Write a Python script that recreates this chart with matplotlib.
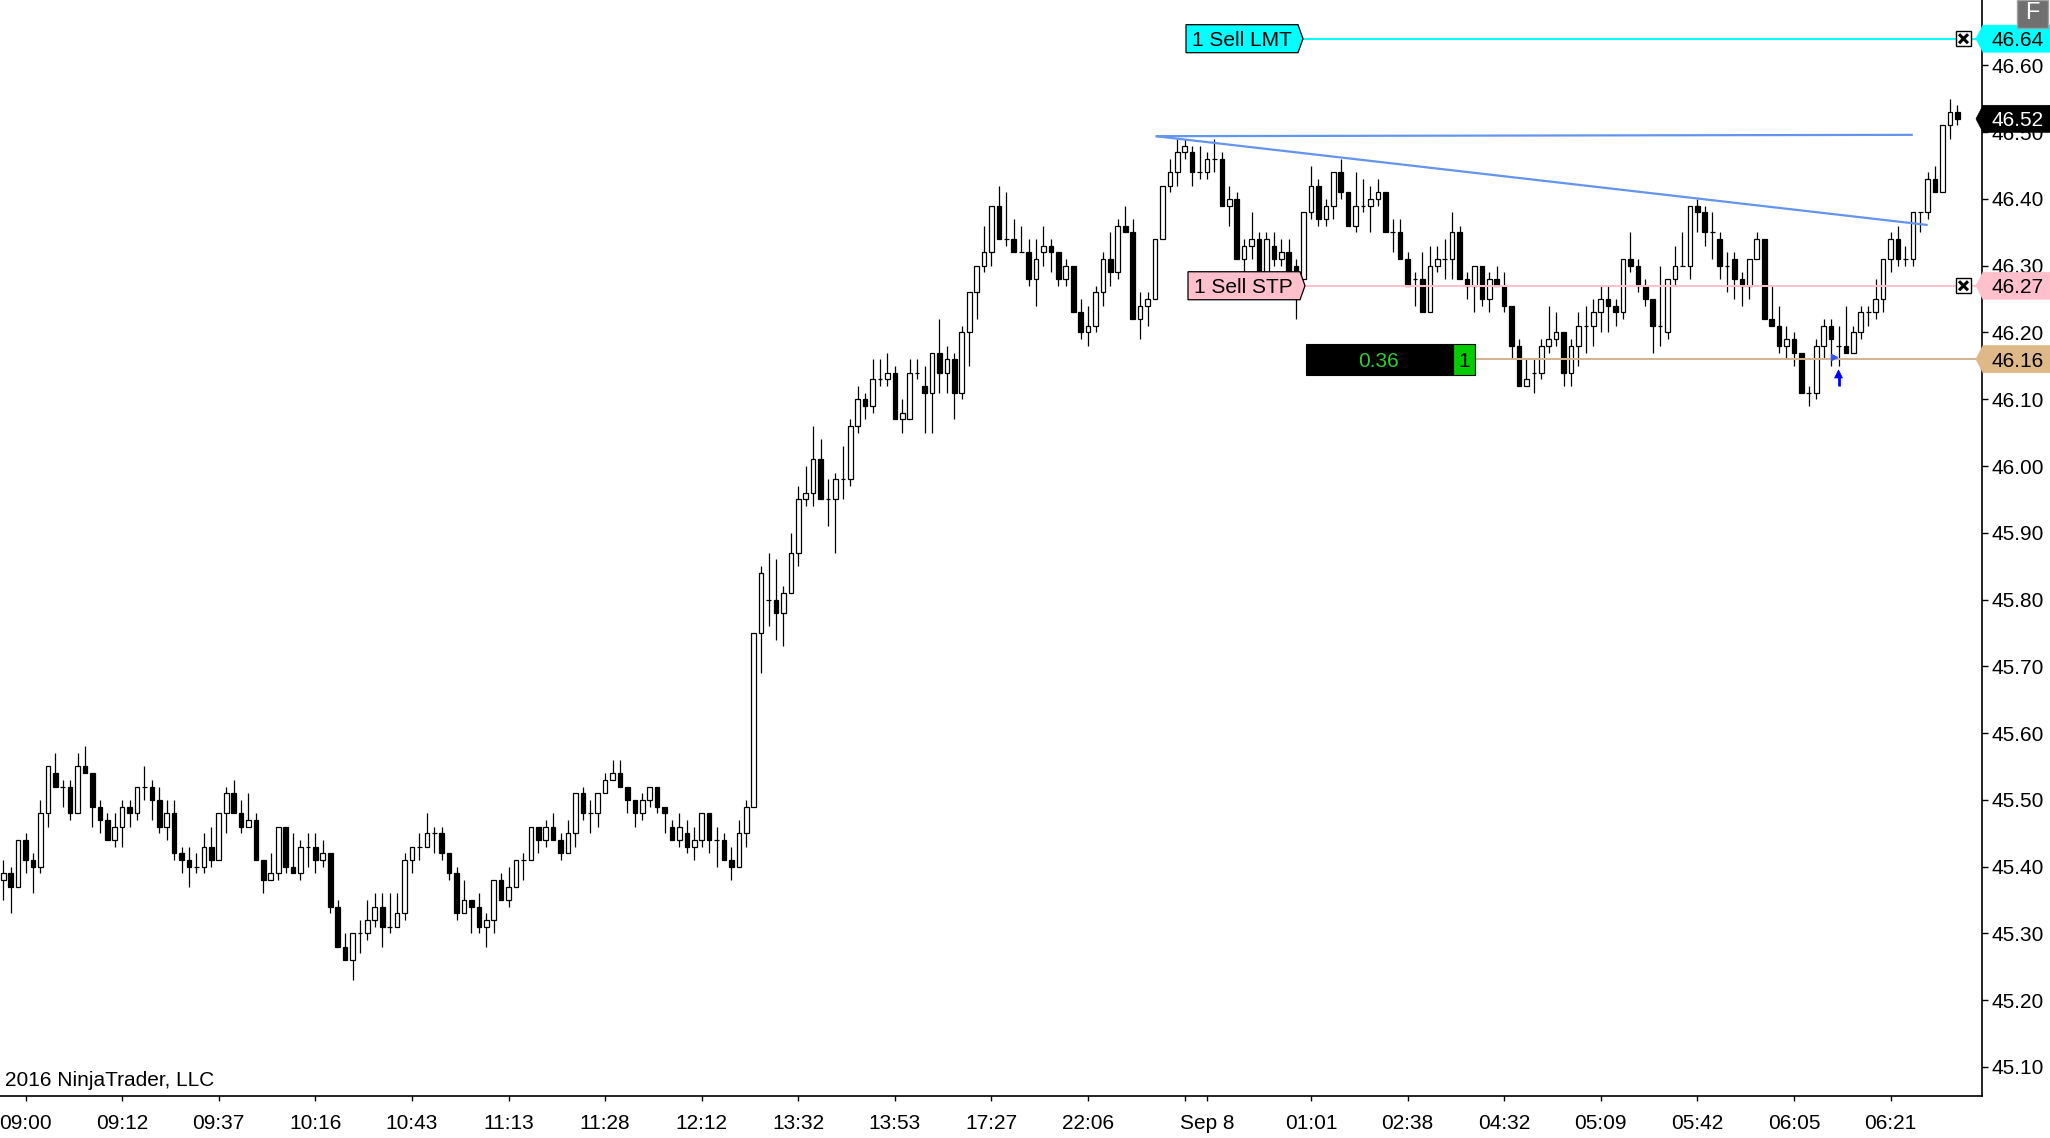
import matplotlib
matplotlib.use("Agg")
import matplotlib.pyplot as plt
from matplotlib.patches import Polygon, Rectangle
import numpy as np

plt.rcParams['font.family'] = ['Liberation Sans', 'DejaVu Sans']

# ---------------- data (OHLC, one row per bar) ----------------
opens = [45.38,45.39,45.37,45.44,45.41,45.40,45.48,45.54,45.52,45.52,45.48,45.55,45.54,45.49,45.47,45.44,45.46,45.49,45.48,45.52,
         45.52,45.50,45.46,45.48,45.42,45.41,45.40,45.40,45.43,45.41,45.48,45.51,45.48,45.46,45.47,45.41,45.38,45.39,45.46,45.40,
         45.39,45.43,45.43,45.41,45.42,45.34,45.28,45.26,45.30,45.30,45.32,45.34,45.31,45.31,45.33,45.41,45.43,45.43,45.45,45.45,
         45.42,45.39,45.33,45.35,45.34,45.31,45.32,45.38,45.35,45.37,45.41,45.41,45.46,45.44,45.46,45.44,45.42,45.45,45.51,45.48,
         45.48,45.51,45.53,45.54,45.52,45.50,45.48,45.50,45.52,45.49,45.46,45.44,45.45,45.43,45.44,45.48,45.44,45.44,45.41,45.40,
         45.45,45.49,45.75,45.80,45.80,45.78,45.81,45.87,45.95,45.96,46.01,45.95,45.95,45.98,45.98,46.06,46.10,46.09,46.13,46.13,
         46.14,46.07,46.07,46.14,46.12,46.11,46.17,46.14,46.16,46.11,46.20,46.26,46.30,46.32,46.39,46.34,46.34,46.32,46.32,46.28,
         46.32,46.33,46.32,46.28,46.30,46.23,46.20,46.21,46.26,46.31,46.29,46.36,46.35,46.22,46.24,46.25,46.34,46.42,46.44,46.47,
         46.47,46.44,46.44,46.46,46.46,46.39,46.40,46.31,46.33,46.34,46.29,46.33,46.31,46.32,46.30,46.28,46.38,46.42,46.37,46.39,
         46.44,46.41,46.36,46.39,46.39,46.40,46.41,46.35,46.35,46.31,46.28,46.28,46.23,46.30,46.31,46.31,46.35,46.28,46.27,46.30,
         46.25,46.28,46.27,46.24,46.18,46.12,46.14,46.14,46.18,46.19,46.20,46.14,46.18,46.21,46.21,46.23,46.25,46.24,46.23,46.31,
         46.30,46.27,46.25,46.21,46.20,46.28,46.30,46.30,46.39,46.38,46.35,46.34,46.30,46.31,46.28,46.27,46.31,46.34,46.22,46.21,
         46.18,46.19,46.17,46.11,46.11,46.18,46.21,46.18,46.18,46.17,46.20,46.23,46.23,46.25,46.31,46.34,46.31,46.31,46.38,46.38,
         46.43,46.41,46.51,46.53]
highs = [45.41,45.40,45.44,45.45,45.42,45.50,45.55,45.57,45.53,45.53,45.57,45.58,45.54,45.50,45.48,45.48,45.50,45.50,45.52,45.55,
         45.53,45.52,45.50,45.50,45.43,45.43,45.42,45.45,45.46,45.48,45.52,45.53,45.50,45.51,45.48,45.41,45.42,45.46,45.46,45.45,
         45.44,45.45,45.45,45.44,45.42,45.35,45.30,45.30,45.32,45.35,45.36,45.36,45.36,45.36,45.42,45.43,45.45,45.48,45.46,45.46,
         45.42,45.40,45.38,45.35,45.36,45.33,45.38,45.39,45.40,45.41,45.42,45.46,45.46,45.47,45.48,45.45,45.47,45.51,45.52,45.50,
         45.51,45.54,45.56,45.56,45.52,45.50,45.51,45.52,45.52,45.49,45.47,45.48,45.47,45.46,45.48,45.48,45.46,45.45,45.43,45.47,
         45.50,45.75,45.85,45.87,45.86,45.82,45.90,45.97,46.00,46.06,46.04,45.98,45.99,46.03,46.07,46.12,46.11,46.16,46.16,46.17,
         46.15,46.10,46.16,46.16,46.15,46.17,46.22,46.18,46.17,46.21,46.26,46.30,46.36,46.39,46.42,46.41,46.37,46.36,46.34,46.34,
         46.36,46.34,46.32,46.31,46.30,46.25,46.24,46.27,46.32,46.35,46.37,46.39,46.37,46.26,46.26,46.34,46.42,46.46,46.49,46.49,
         46.48,46.48,46.47,46.49,46.47,46.42,46.41,46.34,46.38,46.35,46.35,46.35,46.34,46.34,46.31,46.38,46.45,46.43,46.40,46.44,
         46.46,46.41,46.44,46.43,46.42,46.43,46.41,46.37,46.37,46.32,46.29,46.32,46.33,46.33,46.34,46.38,46.36,46.29,46.30,46.30,
         46.29,46.30,46.29,46.24,46.19,46.16,46.16,46.19,46.24,46.23,46.20,46.19,46.23,46.24,46.25,46.27,46.27,46.25,46.31,46.35,
         46.31,46.28,46.25,46.30,46.28,46.33,46.35,46.39,46.40,46.39,46.38,46.35,46.32,46.32,46.29,46.31,46.35,46.34,46.27,46.24,
         46.21,46.20,46.17,46.12,46.19,46.22,46.22,46.21,46.24,46.21,46.24,46.24,46.28,46.31,46.35,46.36,46.33,46.38,46.38,46.44,
         46.45,46.51,46.55,46.54]
lows =  [45.35,45.33,45.37,45.39,45.36,45.39,45.46,45.52,45.49,45.47,45.48,45.54,45.46,45.45,45.44,45.43,45.43,45.46,45.47,45.50,
         45.47,45.45,45.44,45.41,45.39,45.37,45.39,45.39,45.40,45.41,45.45,45.48,45.45,45.46,45.41,45.36,45.38,45.38,45.39,45.39,
         45.38,45.40,45.39,45.40,45.33,45.28,45.26,45.23,45.27,45.29,45.31,45.28,45.30,45.31,45.32,45.39,45.41,45.43,45.42,45.41,
         45.38,45.32,45.33,45.30,45.30,45.28,45.30,45.35,45.34,45.37,45.38,45.41,45.42,45.43,45.44,45.41,45.42,45.43,45.47,45.45,
         45.46,45.51,45.53,45.52,45.48,45.46,45.47,45.49,45.48,45.45,45.44,45.43,45.42,45.41,45.43,45.42,45.40,45.41,45.38,45.40,
         45.43,45.49,45.69,45.76,45.74,45.73,45.81,45.85,45.94,45.94,45.95,45.91,45.87,45.95,45.97,46.05,46.07,46.08,46.12,46.12,
         46.07,46.05,46.07,46.13,46.05,46.05,46.11,46.11,46.07,46.10,46.15,46.22,46.29,46.30,46.34,46.33,46.32,46.32,46.27,46.24,
         46.30,46.29,46.27,46.27,46.23,46.19,46.18,46.20,46.24,46.27,46.28,46.35,46.22,46.19,46.21,46.25,46.34,46.41,46.42,46.46,
         46.42,46.43,46.43,46.44,46.39,46.36,46.31,46.29,46.31,46.29,46.28,46.30,46.30,46.27,46.22,46.28,46.37,46.36,46.36,46.37,
         46.40,46.36,46.35,46.38,46.35,46.39,46.35,46.32,46.31,46.27,46.24,46.23,46.23,46.29,46.28,46.28,46.28,46.25,46.23,46.24,
         46.23,46.27,46.23,46.16,46.12,46.12,46.11,46.13,46.17,46.18,46.12,46.12,46.15,46.17,46.18,46.20,46.20,46.21,46.22,46.29,
         46.26,46.24,46.17,46.18,46.19,46.27,46.30,46.28,46.35,46.33,46.31,46.28,46.26,46.25,46.24,46.25,46.31,46.22,46.21,46.17,
         46.16,46.15,46.11,46.09,46.10,46.16,46.15,46.15,46.17,46.17,46.19,46.21,46.22,46.23,46.29,46.30,46.30,46.30,46.35,46.37,
         46.41,46.41,46.49,46.51]
closes = [45.39,45.37,45.44,45.41,45.40,45.48,45.55,45.52,45.52,45.48,45.55,45.54,45.49,45.47,45.44,45.46,45.49,45.48,45.52,45.52,
          45.50,45.46,45.48,45.42,45.41,45.40,45.40,45.43,45.41,45.48,45.51,45.48,45.46,45.47,45.41,45.38,45.39,45.46,45.40,45.39,
          45.43,45.43,45.41,45.42,45.34,45.28,45.26,45.30,45.30,45.32,45.34,45.31,45.31,45.33,45.41,45.43,45.43,45.45,45.45,45.42,
          45.39,45.33,45.35,45.34,45.31,45.32,45.38,45.35,45.37,45.41,45.41,45.46,45.44,45.46,45.44,45.42,45.45,45.51,45.48,45.48,
          45.51,45.53,45.54,45.52,45.50,45.48,45.50,45.52,45.49,45.48,45.44,45.46,45.43,45.44,45.48,45.44,45.44,45.41,45.40,45.45,
          45.49,45.75,45.84,45.80,45.78,45.81,45.87,45.95,45.96,46.01,45.95,45.95,45.98,45.98,46.06,46.10,46.09,46.13,46.13,46.14,
          46.07,46.08,46.14,46.14,46.11,46.17,46.14,46.16,46.11,46.20,46.26,46.30,46.32,46.39,46.34,46.34,46.32,46.32,46.28,46.31,
          46.33,46.32,46.28,46.30,46.23,46.20,46.21,46.26,46.31,46.29,46.36,46.35,46.22,46.24,46.25,46.34,46.42,46.44,46.47,46.48,
          46.44,46.44,46.46,46.46,46.39,46.40,46.31,46.33,46.34,46.29,46.34,46.31,46.32,46.29,46.27,46.38,46.42,46.37,46.39,46.44,
          46.41,46.36,46.39,46.39,46.40,46.41,46.35,46.35,46.31,46.27,46.28,46.23,46.30,46.31,46.31,46.35,46.28,46.27,46.30,46.25,
          46.28,46.27,46.24,46.18,46.12,46.13,46.14,46.18,46.19,46.20,46.14,46.18,46.21,46.21,46.23,46.25,46.24,46.23,46.31,46.30,
          46.27,46.25,46.21,46.21,46.28,46.30,46.30,46.39,46.38,46.35,46.35,46.30,46.30,46.28,46.27,46.31,46.34,46.22,46.21,46.18,
          46.19,46.17,46.11,46.11,46.18,46.21,46.19,46.18,46.17,46.20,46.23,46.23,46.25,46.31,46.34,46.31,46.31,46.38,46.38,46.43,
          46.41,46.51,46.53,46.52]

time_tick_bars = [3, 16, 29, 42, 55, 68, 81, 94, 107, 120, 133, 146, 159, 162, 176, 189, 202, 215, 228, 241, 254]
time_tick_labels = ["09:00", "09:12", "09:37", "10:16", "10:43", "11:13", "11:28", "12:12", "13:32", "13:53",
                    "17:27", "22:06", "", "Sep 8", "01:01", "02:38", "04:32", "05:09", "05:42", "06:05", "06:21"]
price_ticks = [45.10, 45.20, 45.30, 45.40, 45.50, 45.60, 45.70, 45.80, 45.90, 46.00,
               46.10, 46.20, 46.30, 46.40, 46.50, 46.60]

limit_price = 46.64
stop_price = 46.27
entry_price = 46.16
last_price = 46.52
pnl_text = "0.36"
position_qty = "1"
trend_flat = [(155.1, 46.494), (257.0, 46.496)]
trend_down = [(155.1, 46.494), (259.0, 46.361)]
entry_arrow_bar = 247

# ---------------- layout helpers (pixel geometry of the 2050x1138 canvas) ----------------
W, H = 2050, 1138
AX_R, AX_B = 1982, 1096
BAR0, BARW = 3.3, 7.43
PY0, PPX = 65.4, 667.7      # y pixel of 46.60, pixels per 1.00


def px2x(px):
    return (px - BAR0) / BARW


def py2y(py):
    return 46.60 - (py - PY0) / PPX


def y2py(y):
    return PY0 + (46.60 - y) * PPX


def x2px(x):
    return BAR0 + x * BARW


fig = plt.figure(figsize=(W / 100, H / 100), dpi=100)
fig.patch.set_facecolor("white")
ax = fig.add_axes([0, (H - AX_B) / H, AX_R / W, AX_B / H])
ax.set_facecolor("white")
ax.set_xlim(px2x(0), px2x(AX_R))
ax.set_ylim(py2y(AX_B), py2y(0))

for s in ("top", "left"):
    ax.spines[s].set_visible(False)
for s in ("right", "bottom"):
    ax.spines[s].set_color("black")
    ax.spines[s].set_linewidth(1.2)

ax.yaxis.tick_right()
ax.set_yticks(price_ticks)
ax.set_yticklabels([f"{p:.2f}" for p in price_ticks])
ax.tick_params(axis="y", direction="out", length=4.3, width=1, pad=2.2, labelsize=15, colors="black")
ax.set_xticks(time_tick_bars)
ax.set_xticklabels(time_tick_labels)
ax.tick_params(axis="x", direction="out", length=3.6, width=1, pad=9.2, labelsize=15, colors="black")

# ---------------- candles ----------------
o = np.array(opens); h = np.array(highs); l = np.array(lows); c = np.array(closes)
idx = np.arange(len(o))
ax.vlines(idx, l, h, color="black", linewidth=0.9, zorder=2)
body_bottom = np.minimum(o, c)
body_height = np.abs(c - o)
face = ["white" if cc >= oo else "black" for oo, cc in zip(o, c)]
ax.bar(idx, body_height, bottom=body_bottom, width=0.62, color=face, edgecolor="black",
       linewidth=0.9, zorder=3)

# ---------------- drawn trend lines ----------------
ax.plot([p[0] for p in trend_flat], [p[1] for p in trend_flat], color="#6495ED", lw=1.6, zorder=4,
        solid_capstyle="butt")
ax.plot([p[0] for p in trend_down], [p[1] for p in trend_down], color="#6495ED", lw=1.6, zorder=4,
        solid_capstyle="butt")

# ---------------- order / position lines ----------------
ax.plot([px2x(1303), px2x(AX_R)], [limit_price] * 2, color="#00FFFF", lw=1.4, zorder=5, clip_on=False)
ax.plot([px2x(1305), px2x(AX_R)], [stop_price] * 2, color="#FFC0CB", lw=1.4, zorder=5, clip_on=False)
ax.plot([px2x(1475), px2x(AX_R)], [entry_price] * 2, color="#D2B48C", lw=1.4, zorder=5, clip_on=False)


def poly_px(pts, **kw):
    xy = [(px2x(x), py2y(y)) for x, y in pts]
    p = Polygon(xy, closed=True, clip_on=False, **kw)
    ax.add_patch(p)
    return p


def order_label(x0, x1, price, text, fc):
    yc = y2py(price)
    hh = 14
    poly_px([(x0, yc - hh), (x1 - 5, yc - hh), (x1, yc), (x1 - 5, yc + hh), (x0, yc + hh)],
            facecolor=fc, edgecolor="black", linewidth=0.9, zorder=8)
    ax.text(px2x(x0 + 6), price, text, fontsize=15, color="black", ha="left", va="center_baseline",
            zorder=9, clip_on=False)


order_label(1186, 1303, limit_price, "1 Sell LMT", "#00FFFF")
order_label(1188, 1305, stop_price, "1 Sell STP", "#FFC0CB")

# position box
yc = y2py(entry_price)
poly_px([(1306, yc - 15.5), (1453, yc - 15.5), (1453, yc + 15.5), (1306, yc + 15.5)],
        facecolor="black", edgecolor="black", linewidth=0.8, zorder=8)
poly_px([(1453, yc - 15.5), (1475, yc - 15.5), (1475, yc + 15.5), (1453, yc + 15.5)],
        facecolor="#00CC00", edgecolor="black", linewidth=0.8, zorder=8)
ax.text(px2x(1379), entry_price, pnl_text, fontsize=15, color="#33CC33", ha="center",
        va="center_baseline", zorder=9, clip_on=False)
ax.text(px2x(1464), entry_price, position_qty, fontsize=15, color="black", ha="center",
        va="center_baseline", zorder=9, clip_on=False)

# close boxes (X)
for price in (limit_price, stop_price):
    yc = y2py(price)
    cx, s = 1963.5, 7.5
    poly_px([(cx - s, yc - s), (cx + s, yc - s), (cx + s, yc + s), (cx - s, yc + s)],
            facecolor="white", edgecolor="black", linewidth=1.0, zorder=8)
    for (a, b) in (((cx - 4.5, yc - 4.5), (cx + 4.5, yc + 4.5)), ((cx - 4.5, yc + 4.5), (cx + 4.5, yc - 4.5))):
        ax.plot([px2x(a[0]), px2x(b[0])], [py2y(a[1]), py2y(b[1])], color="black", lw=2.2,
                zorder=9, clip_on=False, solid_capstyle="butt")


# right axis price markers
def price_marker(price, fc, tc):
    yc = y2py(price)
    hh = 13.5
    poly_px([(1976, yc), (1983, yc - hh), (2050, yc - hh), (2050, yc + hh), (1983, yc + hh)],
            facecolor=fc, edgecolor=fc, linewidth=0.5, zorder=10)
    ax.text(px2x(2018), price, f"{price:.2f}", fontsize=15, color=tc, ha="center",
            va="center_baseline", zorder=11, clip_on=False)


price_marker(limit_price, "#00FFFF", "black")
price_marker(last_price, "black", "white")
price_marker(stop_price, "#FFC0CB", "black")
price_marker(entry_price, "#DEB887", "black")

# execution markers: blue up arrow with a stem
ax_px = x2px(entry_arrow_bar)
ax.plot([entry_arrow_bar, entry_arrow_bar], [py2y(386), py2y(377)], color="blue", lw=2.0,
        zorder=7, solid_capstyle="butt")
poly_px([(ax_px - 4, 378), (ax_px + 4, 378), (ax_px, 370)], facecolor="blue", edgecolor="blue",
        linewidth=0.5, zorder=7)
ax.plot([entry_arrow_bar - 0.6], [entry_price + 0.003], marker=">", color="#3355FF", markersize=4, zorder=7)

# "F" box in the top right corner
fig.patches.append(Rectangle((2017 / W, 1 - 28 / H), 31 / W, 28 / H, transform=fig.transFigure,
                             facecolor="#707070", edgecolor="#A0A0A0", linewidth=1, zorder=20))
fig.text(2032.5 / W, 1 - 13 / H, "F", fontsize=17, color="white", ha="center", va="center", zorder=21)

# copyright text
ax.text(px2x(5), py2y(1080), "2016 NinjaTrader, LLC", fontsize=15, color="black", ha="left",
        va="center", zorder=6)

fig.savefig("out.png", dpi=100, facecolor="white")
